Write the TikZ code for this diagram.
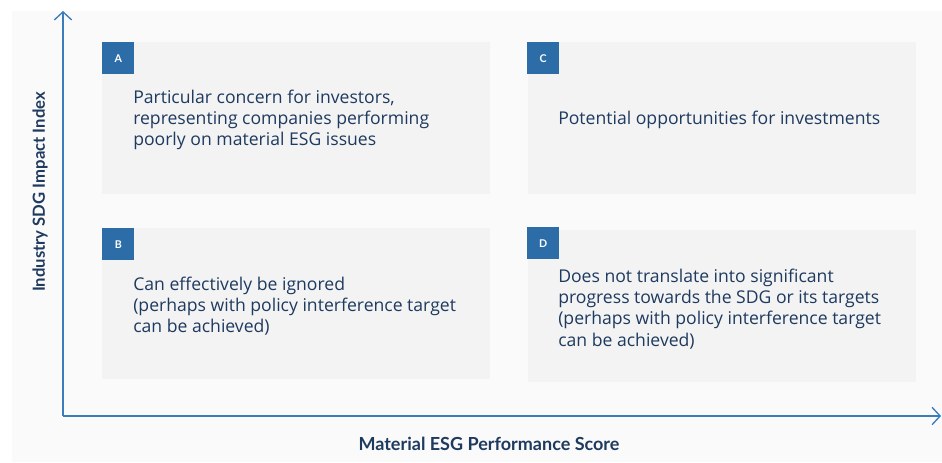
\documentclass[tikz,border=0pt]{standalone}
\usepackage{fontspec}
\setmainfont{Lato}
\newfontfamily\quadfont{Open Sans}
\usetikzlibrary{arrows.meta}

\definecolor{axisblue}{HTML}{3A7DBA}
\definecolor{tagblue}{HTML}{2C6DA8}
\definecolor{navy}{HTML}{1E3A5F}
\definecolor{boxgray}{HTML}{F3F3F3}
\definecolor{bggray}{HTML}{FAFAFA}

\tikzset{
    quadbox/.style={fill=boxgray, draw=none},
    tagbox/.style={fill=tagblue, text=white, font=\fontsize{8}{9}\selectfont\bfseries,
        minimum size=24pt, inner sep=0pt, anchor=north west},
    quadtext/.style={text=navy, font=\quadfont\fontsize{13.2}{15.9}\selectfont, align=left,
        anchor=west, inner sep=0pt},
    axislabel/.style={text=navy, font=\fontsize{13.5}{15}\selectfont\bfseries, inner sep=0pt},
    axisline/.style={draw=axisblue, line width=1.1pt,
        -{Straight Barb[length=6pt, width=13pt, line width=1pt]}}
}

\begin{document}
\begin{tikzpicture}[x=0.75pt, y=-0.75pt]
        \useasboundingbox (0, 0) rectangle (942, 462);
        \fill[white] (0, 0) rectangle (942, 462);
        \fill[bggray] (12, 11) rectangle (942, 462);

        % quadrants
        \fill[quadbox] (102, 42) rectangle (490, 194);
        \fill[quadbox] (528, 42) rectangle (916, 194);
        \fill[quadbox] (102, 228) rectangle (490, 379);
        \fill[quadbox] (528, 230) rectangle (916, 382);

        \node[tagbox] (tagA) at (102, 42) {A};
        \node[tagbox] (tagC) at (527, 42) {C};
        \node[tagbox] (tagB) at (102, 228) {B};
        \node[tagbox] (tagD) at (527, 227) {D};

        \node[quadtext] (textA) at (133, 120) {Particular concern for investors,\\
            representing companies performing\\ poorly on material ESG issues};
        \node[quadtext] (textC) at (558, 120) {Potential opportunities for investments};
        \node[quadtext] (textB) at (133, 306) {Can effectively be ignored\\
            (perhaps with policy interference target\\ can be achieved)};
        \node[quadtext] (textD) at (558, 309) {Does not translate into significant\\
            progress towards the SDG or its targets\\
            (perhaps with policy interference target\\ can be achieved)};

        % axes
        \coordinate (origin) at (63, 416);
        \coordinate (ytop) at (63, 11);
        \coordinate (xend) at (941, 416);
        \draw[axisline] (origin) -- (ytop);
        \draw[axisline] (origin) -- (xend);

        \node[axislabel, rotate=90, font=\fontsize{12.5}{15}\selectfont\bfseries]
            (ylabel) at (40, 192) {Industry SDG Impact Index};
        \node[axislabel] (xlabel) at (489, 444) {Material ESG Performance Score};
    \end{tikzpicture}
\end{document}
